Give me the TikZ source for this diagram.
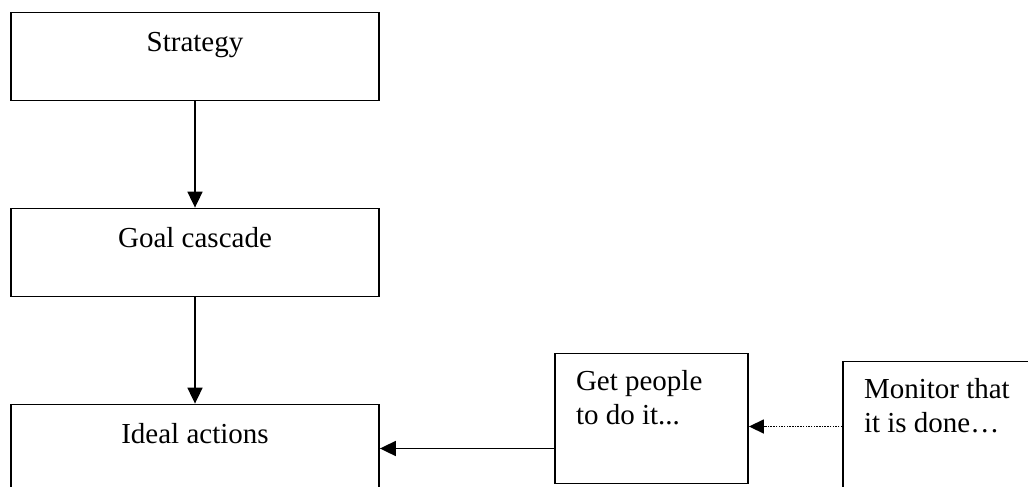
\documentclass[tikz,border=0pt]{standalone}
\usepackage{fontspec}
\setmainfont{Liberation Serif}
\usetikzlibrary{arrows.meta}
\tikzstyle{planbox} = [rectangle, draw=black, line width=1.8pt, inner sep=0pt, font=\fontsize{29}{34}\selectfont]
\tikzstyle{arrow} = [line width=1.8pt,-{Triangle[length=16pt,width=15pt]}]
\tikzstyle{dotarrow} = [line width=1.5pt,dash pattern=on 1.5pt off 1.2pt,-{Triangle[length=15pt,width=14pt]}]
\newcommand{\midtext}[1]{\parbox[c][88pt][t]{368pt}{\centering\rule{0pt}{39pt}#1}}
\newcommand{\lefttext}[1]{\parbox[c][130pt][t]{193pt}{\raggedright\leftskip=21pt\rule{0pt}{37pt}#1}}
\begin{document}
\begin{tikzpicture}[node distance=196pt, x=1pt, y=-1pt]
\useasboundingbox (0,0) rectangle (1028,487);
\clip (0,0) rectangle (1028,487);

\node (strat) [planbox] at (195,56.5) {\midtext{Strategy}};
\node (goal) [planbox, below of=strat] {\midtext{Goal cascade}};
\node (ideal) [planbox, below of=goal] {\midtext{Ideal actions}};
\node (people) [planbox, node distance=456.5pt, right of=ideal, yshift=30pt] {\lefttext{Get people\\to do it...}};
\node (monitor) [planbox, node distance=288pt, right of=people, yshift=-8pt] {\lefttext{Monitor that\\it is done…}};
\draw [arrow] (strat) -- (goal);
\draw [arrow] (goal) -- (ideal);
\draw [arrow] (people.west |- ideal) -- (ideal.east);
\draw [dotarrow] (monitor.west) -- (people.east |- monitor);

\end{tikzpicture}
\end{document}
